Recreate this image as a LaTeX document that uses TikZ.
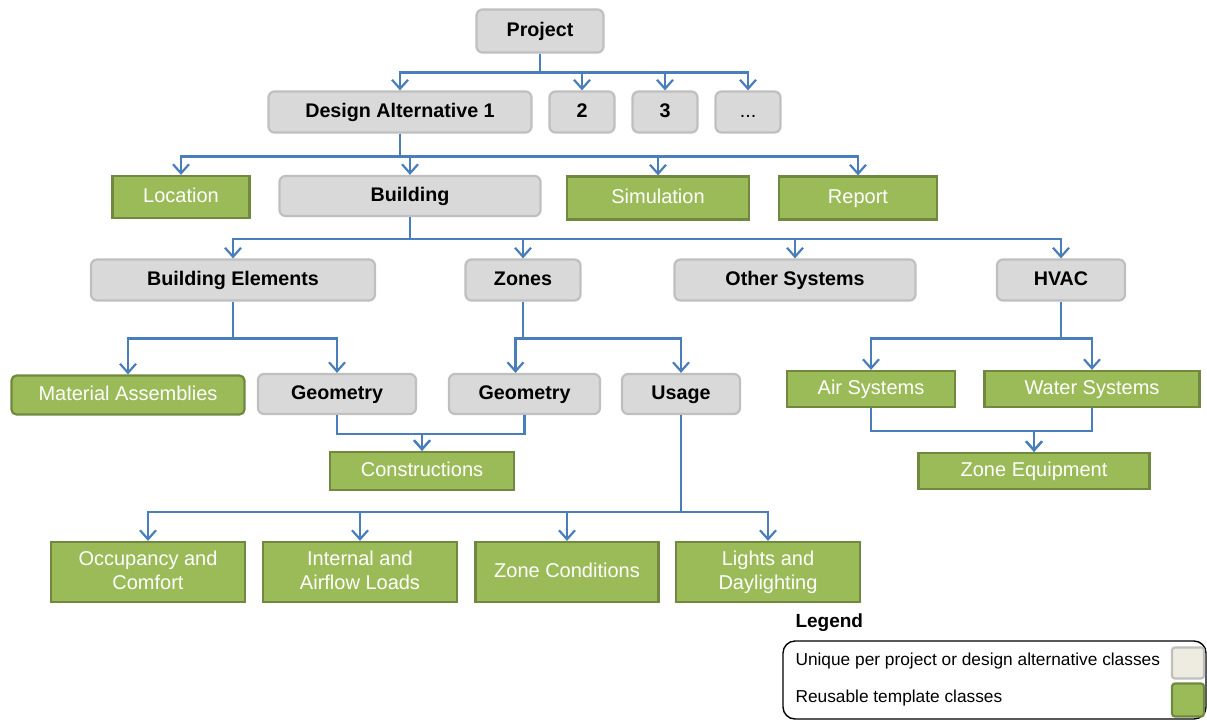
\documentclass[tikz,border=0pt]{standalone}
\usepackage{fontspec}
\setmainfont{Liberation Sans}
\usetikzlibrary{arrows.meta}
\definecolor{gfill}{HTML}{D9D9D9}
\definecolor{gdraw}{HTML}{BFBFBF}
\definecolor{grfill}{HTML}{9BBB59}
\definecolor{grdraw}{HTML}{71893F}
\definecolor{conncol}{HTML}{4A7EBB}
\definecolor{beige}{HTML}{EEECE1}
\begin{document}
\begin{tikzpicture}[x=1pt,y=-1pt,
  gbox/.style={draw=gdraw,fill=gfill,line width=2.2pt,rounded corners=6pt,inner sep=0pt,
    text height=14.5pt,text depth=4pt,
    font=\bfseries\fontsize{19.7}{22}\selectfont,text=black},
  tbox/.style={draw=grdraw,fill=grfill,line width=2.2pt,inner sep=0pt,align=center,
    text height=14.5pt,text depth=4pt,
    font=\fontsize{20}{24}\selectfont,text=white},
  tbox2/.style={tbox,text height=,text depth=},
  wh/.style n args={2}{minimum width=#1pt,minimum height=#2pt},
  conn/.style={draw=conncol,line width=2.4pt},
  arr/.style={conn,-{Straight Barb[length=9pt,width=16pt,line width=2.2pt]}}]
\useasboundingbox (0,0) rectangle (1207,720);
% level 0-1
\node[gbox,wh={127}{43}] (proj) at (540,31) {Project};
\node[gbox,wh={263}{41}] (da1) at (400,112) {Design Alternative 1};
\node[gbox,wh={65}{41}] (da2) at (582,112) {2};
\node[gbox,wh={65}{41}] (da3) at (665,112) {3};
\node[gbox,wh={65}{41},font=\fontsize{19.7}{22}\selectfont] (da4) at (748,112) {...};
% level 2
\node[tbox,wh={137}{42}] (loc) at (181,197) {Location};
\node[gbox,wh={261}{40}] (bldg) at (410,196) {Building};
\node[tbox,wh={182}{43}] (sim) at (658,198) {Simulation};
\node[tbox,wh={158}{43}] (rep) at (858,198) {Report};
% level 3
\node[gbox,wh={284}{41}] (be) at (233,280) {Building Elements};
\node[gbox,wh={115}{41}] (zones) at (523,280) {Zones};
\node[gbox,wh={241}{41}] (oth) at (795,280) {Other Systems};
\node[gbox,wh={128}{41}] (hvac) at (1061,280) {HVAC};
% level 4
\node[tbox,wh={233}{39},rounded corners=5pt] (mat) at (128,395) {Material Assemblies};
\node[gbox,wh={158}{40}] (geo1) at (337,394) {Geometry};
\node[gbox,wh={151}{40}] (geo2) at (524.5,394) {Geometry};
\node[gbox,wh={118}{40}] (usage) at (681,394) {Usage};
\node[tbox,wh={168}{36}] (air) at (871,389) {Air Systems};
\node[tbox,wh={215}{36}] (water) at (1092,389) {Water Systems};
% level 5
\node[tbox,wh={184}{38}] (cons) at (422,471) {Constructions};
\node[tbox,wh={231}{36}] (zeq) at (1034,471) {Zone Equipment};
% level 6
\node[tbox2,wh={194}{60}] (occ) at (148,572) {Occupancy and\\Comfort\vphantom{g}};
\node[tbox2,wh={194}{60}] (intl) at (360,572) {Internal and\\Airflow Loads\vphantom{g}};
\node[tbox,wh={183}{60}] (zc) at (567,572) {Zone Conditions};
\node[tbox2,wh={184}{60}] (lights) at (768,572) {Lights and\\Daylighting};
% connectors
\foreach \c in {da1,da2,da3,da4}
  \draw[arr] (proj.south) -- ++(0,19) -| (\c.north);
\foreach \c in {loc,bldg,sim,rep}
  \draw[arr] (da1.south) -- ++(0,23) -| (\c.north);
\foreach \c in {be,zones,oth,hvac}
  \draw[arr] (bldg.south) -- ++(0,22) -| (\c.north);
\foreach \c in {mat,geo1}
  \draw[arr] (be.south) -- ++(0,37) -| (\c.north);
\draw[arr] (zones.south) -- ++(0,37) -| ([xshift=-9pt]geo2.north);
\draw[arr] (zones.south) -- ++(0,37) -| (usage.north);
\foreach \c in {air,water}
  \draw[arr] (hvac.south) -- ++(0,37) -| (\c.north);
\draw[arr] (geo1.south) -- ++(0,19) -| (cons.north);
\draw[arr] (geo2.south) -- ++(0,19) -| (cons.north);
\foreach \c in {air,water}
  \draw[arr] (\c.south) -- ++(0,23) -| (zeq.north);
\foreach \c in {occ,intl,zc,lights}
  \draw[arr] (usage.south) -- ++(0,97) -| (\c.north);
% legend
\node[anchor=west,font=\bfseries\fontsize{19}{22}\selectfont] (legt) at (792,623) {Legend};
\draw[line width=1.4pt,rounded corners=12pt] (783,641) rectangle (1206,719);
\node[anchor=west,font=\fontsize{17.3}{20}\selectfont] (leg1) at (792,661) {Unique per project or design alternative classes};
\node[anchor=west,font=\fontsize{17.3}{20}\selectfont] (leg2) at (792,698) {Reusable template classes};
\node[draw=gdraw,fill=beige,line width=2.2pt,rounded corners=3pt,minimum width=32pt,minimum height=31pt] (sw1) at (1188,663) {};
\node[draw=grdraw,fill=grfill,line width=2.2pt,rounded corners=3pt,minimum width=32pt,minimum height=33pt] (sw2) at (1188,700) {};
\end{tikzpicture}
\end{document}
